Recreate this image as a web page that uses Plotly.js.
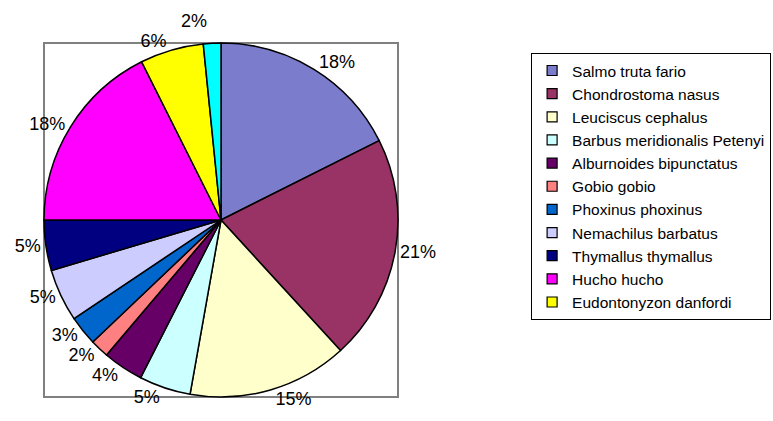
<!DOCTYPE html>
<html>
<head>
<meta charset="utf-8">
<script src="https://cdn.plot.ly/plotly-3.0.1.min.js"></script>
<style>html,body{margin:0;padding:0;background:#fff;}#chart{width:773px;height:421px;} .textline{display:none;}</style>
</head>
<body>
<div id="chart"></div>
<script>
// Species (clockwise from 12 o'clock)
var species = [
  "Salmo truta fario",
  "Chondrostoma nasus",
  "Leuciscus cephalus",
  "Barbus meridionalis Petenyi",
  "Alburnoides bipunctatus",
  "Gobio gobio",
  "Phoxinus phoxinus",
  "Nemachilus barbatus",
  "Thymallus thymallus",
  "Hucho hucho",
  "Eudontonyzon danfordi",
  "Other"
];
// Share of each species (%)
var shares = [17.6, 20.6, 14.6, 4.7, 3.7, 1.7, 2.7, 4.8, 4.6, 17.6, 5.8, 1.6];
var colors = ["#7c7ccc", "#993366", "#FFFFCC", "#CCFFFF", "#660066", "#FF8080",
              "#0066CC", "#CCCCFF", "#000080", "#FF00FF", "#FFFF00", "#00FFFF"];
// number of legend entries visible in the reference
var legendCount = 11;

var font = "Liberation Sans, Arial, sans-serif";

var data = [{
  type: "pie",
  labels: species,
  values: shares,
  sort: false,
  direction: "clockwise",
  rotation: 0,
  marker: {colors: colors, line: {color: "#000", width: 1.5}},
  texttemplate: "%{percent:.0%}",
  textposition: "outside",
  outsidetextfont: {family: font, size: 18, color: "#000"},
  showlegend: false,
  hoverinfo: "label+percent"
}];

for (var i = 0; i < legendCount; i++) {
  data.push({
    type: "scatter",
    mode: "markers",
    x: [null], y: [null],
    name: species[i],
    marker: {symbol: "square", size: 10, color: colors[i], line: {color: "#000", width: 1.2}},
    showlegend: true,
    hoverinfo: "skip"
  });
}

var layout = {
  width: 773, height: 421,
  margin: {l: 44, r: 375, t: 43, b: 24, autoexpand: false},
  paper_bgcolor: "#fff",
  plot_bgcolor: "rgba(0,0,0,0)",
  font: {family: font, size: 15.5, color: "#000"},
  xaxis: {visible: false},
  yaxis: {visible: false},
  showlegend: true,
  legend: {
    x: 1.376, xanchor: "left",
    y: 0.972, yanchor: "top",
    bgcolor: "#fff",
    bordercolor: "#000",
    borderwidth: 1,
    font: {family: font, size: 15.5, color: "#000"},
    traceorder: "normal",
    tracegroupgap: 0
  },
  shapes: [{
    type: "rect", xref: "paper", yref: "paper",
    x0: 0, x1: 1, y0: 0, y1: 1,
    line: {color: "#808080", width: 2},
    layer: "below"
  }]
};

Plotly.newPlot("chart", data, layout, {displayModeBar: false, staticPlot: true});
</script>
</body>
</html>
